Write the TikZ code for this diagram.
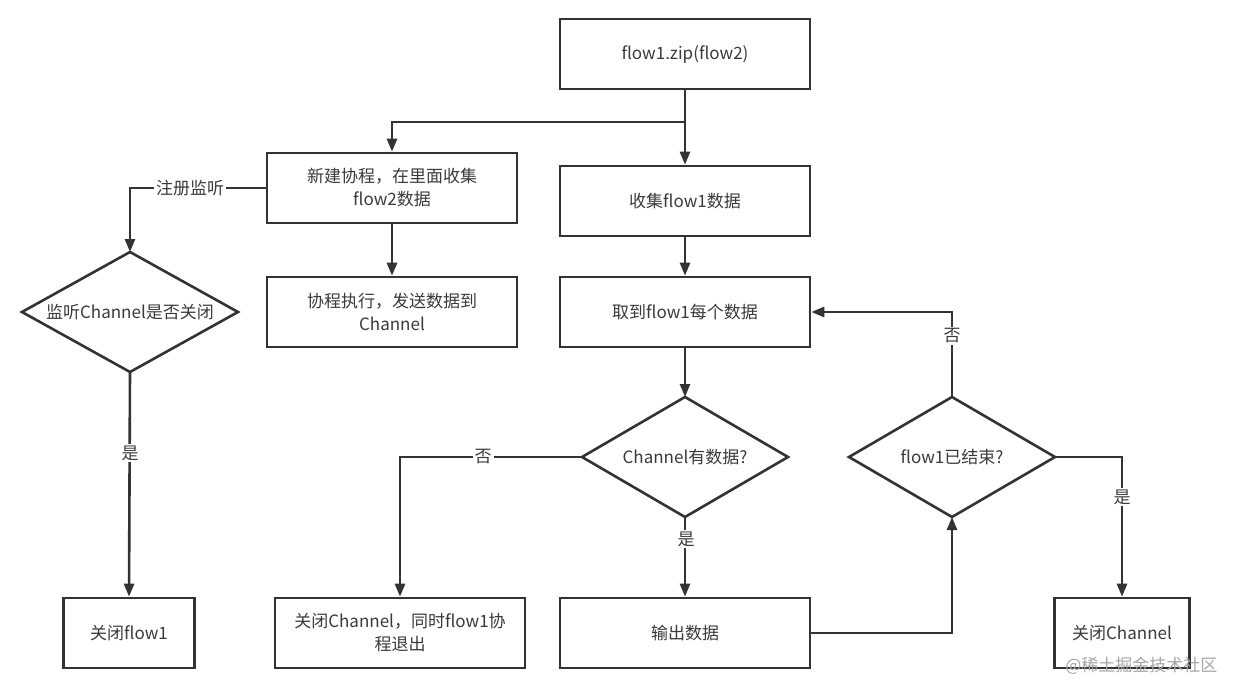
\documentclass[tikz,border=0pt]{standalone}
\usepackage{fontspec}
\setmainfont{Noto Sans CJK SC}
\usetikzlibrary{arrows.meta,shapes.geometric}
\definecolor{ink}{HTML}{333333}
\definecolor{txt}{HTML}{3A3A3A}
\begin{document}
\begin{tikzpicture}[x=1pt,y=-1pt,
  every node/.style={font=\fontsize{17}{23}\selectfont, text=txt},
  box/.style={draw=ink, line width=2.6pt, minimum width=250pt, minimum height=70pt, align=center, inner sep=2pt},
  conn/.style={draw=ink, line width=2.6pt},
  arr/.style={conn, -{Triangle[length=13pt,width=10pt]}},
  lbl/.style={fill=white, inner sep=2pt}]
\useasboundingbox (0,0) rectangle (1240,698);
\fill[white] (0,0) rectangle (1240,698);
% boxes
\node[box] (zip) at (685,54) {flow1.zip(flow2)};
\node[box] (new) at (392,188) {新建协程，在里面收集\\flow2数据};
\node[box] (col) at (685,201) {收集flow1数据};
\node[box] (exe) at (392,312) {协程执行，发送数据到\\Channel};
\node[box] (get) at (685,312) {取到flow1每个数据};
\node[box, minimum width=131pt] (cf1) at (129,633) {关闭flow1};
\node[box] (cch) at (400,633) {关闭Channel，同时flow1协\\程退出};
\node[box] (out) at (685,633) {输出数据};
\node[box, minimum width=135pt] (cc2) at (1122,633) {关闭Channel};
% diamonds
\path[draw=ink, line width=2.6pt] (130,252) -- (238,312) -- (130,372) -- (22,312) -- cycle;
\node (lis) at (130,312) {监听Channel是否关闭};
\coordinate (lisT) at (130,252);
\coordinate (lisB) at (130,372);
\path[draw=ink, line width=2.6pt] (685,397) -- (788,457) -- (685,517) -- (582,457) -- cycle;
\node (hasd) at (685,457) {Channel有数据?};
\coordinate (hasT) at (685,397);
\coordinate (hasB) at (685,517);
\coordinate (hasL) at (582,457);
\path[draw=ink, line width=2.6pt] (952,397) -- (1055,457) -- (952,517) -- (849,457) -- cycle;
\node (end) at (952,457) {flow1已结束?};
\coordinate (endT) at (952,397);
\coordinate (endB) at (952,517);
\coordinate (endR) at (1055,457);
% junction
\coordinate (j1) at (685,122);
% connectors
\draw[conn] (zip.south) -- (j1);
\draw[arr] (j1) -- (col.north);
\draw[arr] (j1) -| (new.north);
\draw[arr] (new.west) -| (lisT);
\node[lbl] at (190,188) {注册监听};
\draw[arr] (new.south) -- (exe.north);
\draw[arr] (col.south) -- (get.north);
\draw[arr] (get.south) -- (hasT);
\draw[arr] (lisB) -- (cf1.north);
\node[lbl] at (130,453) {是};
\draw[arr] (hasL) -| (cch.north);
\node[lbl] at (483,457) {否};
\draw[arr] (hasB) -- (out.north);
\node[lbl] at (686,539) {是};
\draw[arr] (out.east) -| (endB);
\draw[arr] (endT) |- (get.east);
\node[lbl] at (952,336) {否};
\draw[arr] (endR) -| (cc2.north);
\node[lbl] at (1122,497) {是};
% watermark
\node[text=black!35, anchor=east, font=\fontsize{17}{20}\selectfont] (wm) at (1221,666) {@稀土掘金技术社区};
\end{tikzpicture}
\end{document}
